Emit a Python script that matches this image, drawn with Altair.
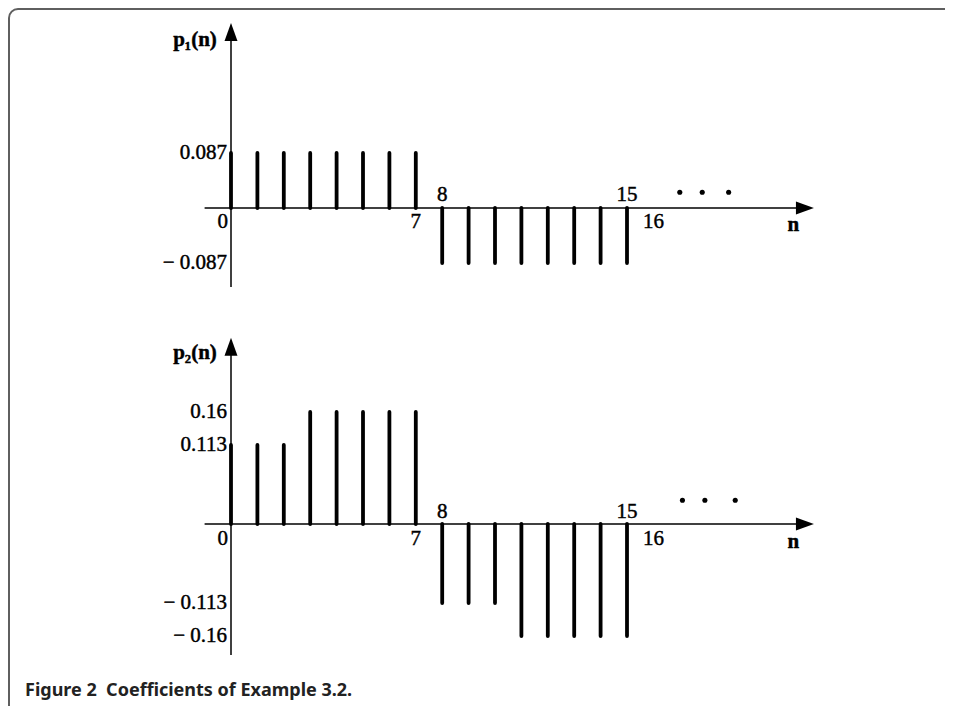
import altair as alt
import pandas as pd

# ---------------- data ----------------
n_values = [0, 1, 2, 3, 4, 5, 6, 7, 8, 9, 10, 11, 12, 13, 14, 15]
p1_values = [0.087, 0.087, 0.087, 0.087, 0.087, 0.087, 0.087, 0.087,
             -0.087, -0.087, -0.087, -0.087, -0.087, -0.087, -0.087, -0.087]
p2_values = [0.113, 0.113, 0.113, 0.16, 0.16, 0.16, 0.16, 0.16,
             -0.113, -0.113, -0.113, -0.16, -0.16, -0.16, -0.16, -0.16]

p1_ticks = [0.087, -0.087]
p1_tick_labels = ["0.087", "\u2212 0.087"]
p2_ticks = [0.16, 0.113, -0.113, -0.16]
p2_tick_labels = ["0.16", "0.113", "\u2212 0.113", "\u2212 0.16"]

origin_label = ["0"]
n_labels_below = [7, 16]
n_labels_above = [8, 15]

p1_dots_n = [17.0, 17.85, 18.85]
p1_dots_v = [0.025, 0.025, 0.025]
p2_dots_n = [17.1, 17.95, 19.1]
p2_dots_v = [0.034, 0.034, 0.034]

caption = "Figure 2\u00a0\u00a0Coefficients of Example 3.2."

# ---------------- layout / scales ----------------
W, H = 937, 698
X0_PX, DX_PX = 223, 26.4           # pixel of n=0, pixels per unit n
x_dom = [-X0_PX / DX_PX, (W - X0_PX) / DX_PX]
xs = alt.Scale(domain=x_dom, nice=False, zero=False)
X_AXIS_LEFT = -1.0
X_AXIS_TIP = 22.08
N_LABEL_POS = 21.3

SERIF = "Liberation Serif"
FS = 21
TXT = dict(font=SERIF, fontSize=FS, color="black", stroke="black", strokeWidth=0.45)


def y_dom(zero_px, k):
    return [(zero_px - H) / k, zero_px / k]


def panel(values, ticks, tick_labels, dots_n, dots_v, zero_px, k,
          y_lo, y_tip, title, below_dy, above_dy, n_dy, title_dy):
    ys = alt.Scale(domain=y_dom(zero_px, k), nice=False, zero=False)

    def X(f):
        return alt.X(f, type="quantitative", scale=xs, axis=None)

    def Y(f):
        return alt.Y(f, type="quantitative", scale=ys, axis=None)

    stems_df = pd.DataFrame({"n": n_values, "v": values, "z": [0] * len(values)})
    stems = alt.Chart(stems_df).mark_rule(
        color="black", strokeWidth=3.8, strokeCap="round"
    ).encode(x=X("n"), y=Y("v"), y2="z:Q")

    axes_df = pd.DataFrame({
        "x1": [0, X_AXIS_LEFT],
        "x2": [0, X_AXIS_TIP - 15 / DX_PX],
        "y1": [y_lo, 0],
        "y2": [y_tip - 15 / k, 0],
    })
    axes = alt.Chart(axes_df).mark_rule(color="black", strokeWidth=1.5).encode(
        x=X("x1"), x2="x2:Q", y=Y("y1"), y2="y2:Q")

    arrows_df = pd.DataFrame({
        "n": [0, X_AXIS_TIP - 9 / DX_PX],
        "v": [y_tip - 9 / k, 0],
        "ang": [0, 90],
    })
    arrows = alt.Chart(arrows_df).mark_point(
        shape="M0,-1L0.72,1L-0.72,1Z", filled=True, size=324,
        color="black", opacity=1, strokeWidth=0
    ).encode(x=X("n"), y=Y("v"), angle=alt.Angle("ang:Q", scale=None))

    dots_df = pd.DataFrame({"n": dots_n, "v": dots_v})
    dots = alt.Chart(dots_df).mark_point(
        shape="circle", filled=True, size=26, color="black", opacity=1
    ).encode(x=X("n"), y=Y("v"))

    ticks_df = pd.DataFrame({"n": [0] * len(ticks), "v": ticks, "t": tick_labels})
    tick_text = alt.Chart(ticks_df).mark_text(
        align="right", baseline="middle", dx=-4, **TXT
    ).encode(x=X("n"), y=Y("v"), text="t:N")

    origin_df = pd.DataFrame({"n": [0], "v": [0], "t": origin_label})
    origin = alt.Chart(origin_df).mark_text(
        align="right", baseline="middle", dx=-3, dy=below_dy, **TXT
    ).encode(x=X("n"), y=Y("v"), text="t:N")

    below_df = pd.DataFrame({"n": n_labels_below, "v": [0] * len(n_labels_below),
                             "t": [str(i) for i in n_labels_below]})
    below = alt.Chart(below_df).mark_text(
        align="center", baseline="middle", dy=below_dy, **TXT
    ).encode(x=X("n"), y=Y("v"), text="t:N")

    above_df = pd.DataFrame({"n": n_labels_above, "v": [0] * len(n_labels_above),
                             "t": [str(i) for i in n_labels_above]})
    above = alt.Chart(above_df).mark_text(
        align="center", baseline="middle", dy=above_dy, **TXT
    ).encode(x=X("n"), y=Y("v"), text="t:N")

    nlab_df = pd.DataFrame({"n": [N_LABEL_POS], "v": [0], "t": ["n"]})
    nlab = alt.Chart(nlab_df).mark_text(
        align="center", baseline="middle", dy=n_dy, fontWeight="bold", **TXT
    ).encode(x=X("n"), y=Y("v"), text="t:N")

    title_df = pd.DataFrame({"n": [0], "v": [y_tip], "t": [title]})
    title_text = alt.Chart(title_df).mark_text(
        align="center", baseline="middle", dx=-36, dy=title_dy, fontWeight="bold", **TXT
    ).encode(x=X("n"), y=Y("v"), text="t:N")

    return alt.layer(stems, axes, arrows, dots, tick_text, origin, below, above,
                     nlab, title_text)


top = panel(p1_values, p1_ticks, p1_tick_labels, p1_dots_n, p1_dots_v,
            zero_px=200, k=632.2, y_lo=-0.125, y_tip=0.2926,
            title="p\u2081(n)", below_dy=14, above_dy=-13, n_dy=17, title_dy=17)
bottom = panel(p2_values, p2_ticks, p2_tick_labels, p2_dots_n, p2_dots_v,
               zero_px=516, k=700, y_lo=-0.187, y_tip=0.266,
               title="p\u2082(n)", below_dy=15, above_dy=-12, n_dy=18, title_dy=15)

one = pd.DataFrame({"a": [0]})
frame = alt.Chart(one).mark_rect(
    fill="white", fillOpacity=0, stroke="#5f5f5f", strokeWidth=2,
    cornerRadius=9, clip=True
).encode(x=alt.value(1), x2=alt.value(W + 60), y=alt.value(1), y2=alt.value(H + 60))

cap = alt.Chart(one).mark_text(
    text=caption, align="left", baseline="middle", font="Noto Sans",
    fontWeight="bold", fontSize=18, color="#222222"
).encode(x=alt.value(17), y=alt.value(683))

chart = alt.layer(frame, top, bottom, cap).resolve_scale(y="independent").properties(
    width=W, height=H, padding=0, autosize=alt.AutoSizeParams(type="none")
).configure_view(stroke=None)

chart.save("out.html", embed_options={"renderer": "svg", "actions": False})
